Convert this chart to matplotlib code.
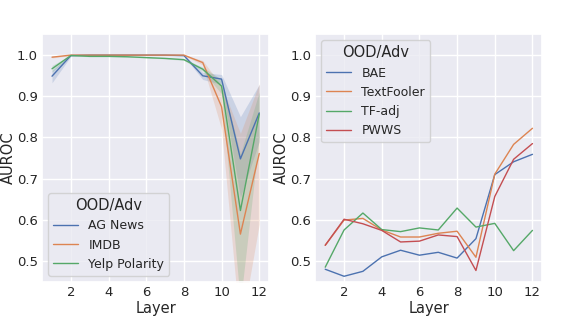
import matplotlib
matplotlib.use("Agg")
import matplotlib.pyplot as plt
import seaborn as sns
import numpy as np

sns.set_theme(style="darkgrid")
plt.rcParams['font.family'] = ['DejaVu Sans']

layers = list(range(1, 13))

# Left panel: OOD datasets (mean and band)
ag_news = [0.948, 0.998, 0.999, 0.999, 0.999, 0.999, 0.999, 0.998, 0.949, 0.941, 0.748, 0.859]
ag_lo   = [0.932, 0.996, 0.998, 0.998, 0.998, 0.998, 0.998, 0.996, 0.940, 0.928, 0.655, 0.790]
ag_hi   = [0.962, 1.000, 1.000, 1.000, 1.000, 1.000, 1.000, 1.000, 0.957, 0.952, 0.850, 0.928]

imdb    = [0.994, 0.999, 0.999, 0.999, 0.999, 0.999, 0.999, 0.999, 0.981, 0.874, 0.566, 0.761]
imdb_lo = [0.992, 0.998, 0.998, 0.998, 0.998, 0.998, 0.998, 0.998, 0.975, 0.820, 0.330, 0.590]
imdb_hi = [0.996, 1.000, 1.000, 1.000, 1.000, 1.000, 1.000, 1.000, 0.986, 0.925, 0.810, 0.930]

yelp    = [0.966, 0.998, 0.996, 0.996, 0.995, 0.993, 0.991, 0.988, 0.965, 0.924, 0.623, 0.856]
yelp_lo = [0.958, 0.997, 0.995, 0.995, 0.994, 0.992, 0.990, 0.986, 0.960, 0.905, 0.400, 0.800]
yelp_hi = [0.974, 0.999, 0.997, 0.997, 0.996, 0.994, 0.992, 0.990, 0.970, 0.940, 0.760, 0.910]

# Right panel: adversarial attacks
bae        = [0.481, 0.464, 0.476, 0.511, 0.527, 0.515, 0.522, 0.508, 0.555, 0.710, 0.741, 0.759]
textfooler = [0.539, 0.600, 0.604, 0.576, 0.559, 0.559, 0.568, 0.573, 0.510, 0.711, 0.783, 0.822]
tf_adj     = [0.486, 0.576, 0.617, 0.577, 0.572, 0.581, 0.576, 0.629, 0.583, 0.592, 0.526, 0.575]
pwws       = [0.539, 0.602, 0.591, 0.575, 0.547, 0.549, 0.564, 0.560, 0.478, 0.657, 0.747, 0.785]

left_names = ["AG News", "IMDB", "Yelp Polarity"]
right_names = ["BAE", "TextFooler", "TF-adj", "PWWS"]
xticks = [2, 4, 6, 8, 10, 12]
yticks = [0.5, 0.6, 0.7, 0.8, 0.9, 1.0]

pal = sns.color_palette("deep")

fig = plt.figure(figsize=(5.68, 3.18), dpi=100)
ax1 = fig.add_axes([0.074, 0.113, 0.40, 0.78])
ax2 = fig.add_axes([0.555, 0.113, 0.40, 0.78])

fs_tick = 9.5
fs_label = 10.5
fs_leg = 9.0

for i, (m, lo, hi, name) in enumerate([(ag_news, ag_lo, ag_hi, left_names[0]),
                                        (imdb, imdb_lo, imdb_hi, left_names[1]),
                                        (yelp, yelp_lo, yelp_hi, left_names[2])]):
    ax1.fill_between(layers, lo, hi, color=pal[i], alpha=0.2, linewidth=0)
    ax1.plot(layers, m, color=pal[i], lw=1.0, label=name)

for i, (m, name) in enumerate(zip([bae, textfooler, tf_adj, pwws], right_names)):
    ax2.plot(layers, m, color=pal[i], lw=1.0, label=name)

for ax in (ax1, ax2):
    ax.set_xlim(0.47, 12.53)
    ax.set_ylim(0.45, 1.05)
    ax.set_xticks(xticks)
    ax.set_yticks(yticks)
    ax.tick_params(labelsize=fs_tick, length=0, pad=3)
    ax.set_xlabel("Layer", fontsize=fs_label, labelpad=1.5)
    ax.set_ylabel("AUROC", fontsize=fs_label, labelpad=1)

ax1.legend(title="OOD/Adv", loc="lower left", fontsize=fs_leg, title_fontsize=fs_label)
ax2.legend(title="OOD/Adv", loc="upper left", fontsize=fs_leg, title_fontsize=fs_label)

fig.savefig("out.png", dpi=100)
